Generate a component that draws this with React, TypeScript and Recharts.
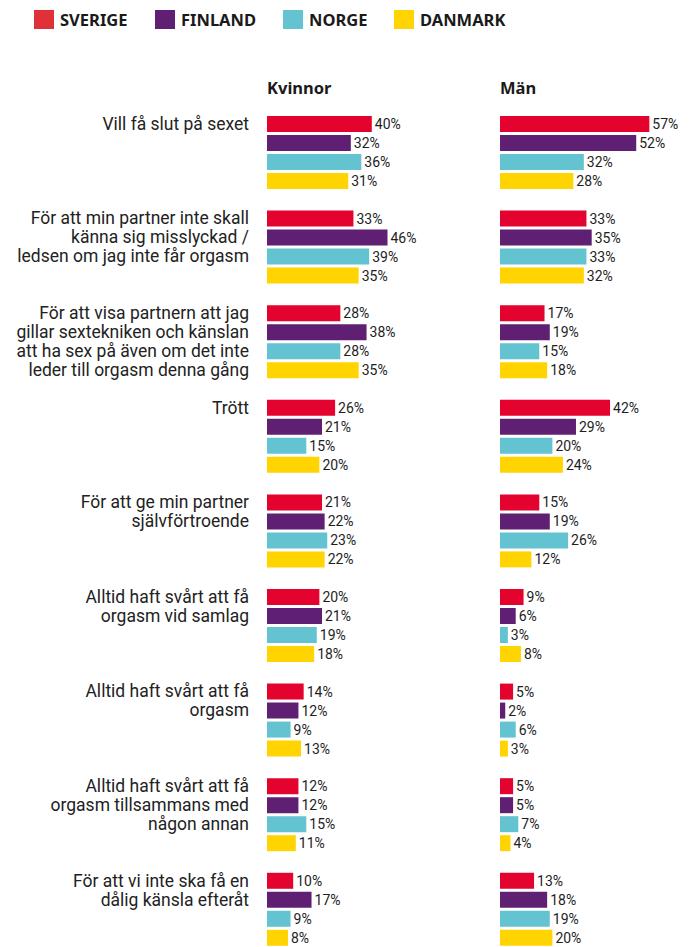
import { Bar, BarChart, LabelList, XAxis, YAxis } from "recharts"

const categories = [
  "Vill få slut på sexet",
  "För att min partner inte skall\nkänna sig misslyckad /\nledsen om jag inte får orgasm",
  "För att visa partnern att jag\ngillar sextekniken och känslan\natt ha sex på även om det inte\nleder till orgasm denna gång",
  "Trött",
  "För att ge min partner\nsjälvförtroende",
  "Alltid haft svårt att få\norgasm vid samlag",
  "Alltid haft svårt att få\norgasm",
  "Alltid haft svårt att få\norgasm tillsammans med\nnågon annan",
  "För att vi inte ska få en\ndålig känsla efteråt",
]

const countries = ["SVERIGE", "FINLAND", "NORGE", "DANMARK"]
const keys = ["sverige", "finland", "norge", "danmark"]
const colors = ["#e4032e", "#5f1f73", "#64c3d0", "#ffd400"]
const legendColors = ["#e03038", "#5f1f73", "#64c3d0", "#ffd400"]

// Kvinnor
const kvinnorSverige = [40, 33, 28, 26, 21, 20, 14, 12, 10]
const kvinnorFinland = [32, 46, 38, 21, 22, 21, 12, 12, 17]
const kvinnorNorge = [36, 39, 28, 15, 23, 19, 9, 15, 9]
const kvinnorDanmark = [31, 35, 35, 20, 22, 18, 13, 11, 8]

// Män
const manSverige = [57, 33, 17, 42, 15, 9, 5, 5, 13]
const manFinland = [52, 35, 19, 29, 19, 6, 2, 5, 18]
const manNorge = [32, 33, 15, 20, 26, 3, 6, 7, 19]
const manDanmark = [28, 32, 18, 24, 12, 8, 3, 4, 20]

const buildRows = (series: number[][]) =>
  categories.map((name, i) => ({
    name,
    sverige: series[0][i],
    finland: series[1][i],
    norge: series[2][i],
    danmark: series[3][i],
  }))

const kvinnorData = buildRows([kvinnorSverige, kvinnorFinland, kvinnorNorge, kvinnorDanmark])
const manData = buildRows([manSverige, manFinland, manNorge, manDanmark])

const FONT = "'Noto Sans', Roboto, sans-serif"
const LABEL_FONT = "Roboto, sans-serif"
const PX_PER_PCT = 2.62
const TOP = 105
const BAND = 94.6
const PLOT_H = BAND * categories.length
// legend item slot widths
const legendSlots = [121, 128, 111, 120]

function CategoryTick(props: any) {
  const { x, y, payload } = props
  const lines = String(payload.value).split("\n")
  return (
    <text x={x} y={y - 28.5} textAnchor="end" fontFamily={LABEL_FONT} fontSize={17.5} fill="#222">
      {lines.map((line, i) => (
        <tspan key={i} x={x} dy={i === 0 ? 6 : 19}>
          {line}
        </tspan>
      ))}
    </text>
  )
}

function Panel({
  data,
  max,
  left,
  axisWidth,
  showLabels,
}: {
  data: any[]
  max: number
  left: number
  axisWidth: number
  showLabels: boolean
}) {
  const plotW = max * PX_PER_PCT
  const width = axisWidth + plotW + 16
  return (
    <div style={{ position: "absolute", left, top: 0 }}>
      <BarChart
        width={width}
        height={TOP + PLOT_H}
        data={data}
        layout="vertical"
        margin={{ top: TOP, right: 16, bottom: 0, left: 0 }}
        barSize={16}
        barGap={3}
      >
        <XAxis type="number" domain={[0, max]} hide />
        <YAxis
          type="category"
          dataKey="name"
          width={axisWidth}
          hide={!showLabels}
          axisLine={false}
          tickLine={false}
          tickSize={0}
          tickMargin={18}
          interval={0}
          tick={<CategoryTick />}
        />
        {keys.map((k, i) => (
          <Bar key={k} dataKey={k} fill={colors[i]} isAnimationActive={false}>
            <LabelList
              dataKey={k}
              position="right"
              offset={3}
              formatter={(v: any) => `${v}%`}
              style={{ fontFamily: LABEL_FONT, fontSize: 14, fill: "#1e1e1e" }}
            />
          </Bar>
        ))}
      </BarChart>
    </div>
  )
}

export default function App() {
  return (
    <div
      style={{
        position: "absolute",
        left: 0,
        top: 0,
        width: 699,
        height: 947,
        overflow: "hidden",
        background: "#fff",
        fontFamily: FONT,
        color: "#1a1a1a",
      }}
    >
      <div style={{ position: "absolute", left: 34, top: 10, display: "flex", alignItems: "center" }}>
        {countries.map((c, i) => (
          <div key={c} style={{ display: "flex", alignItems: "center", width: legendSlots[i] }}>
            <div style={{ width: 20, height: 19, background: legendColors[i], marginRight: 6, flexShrink: 0 }} />
            <span style={{ fontWeight: 700, fontSize: 16.5, lineHeight: "19px", whiteSpace: "nowrap" }}>{c}</span>
          </div>
        ))}
      </div>
      <div style={{ position: "absolute", left: 267, top: 76, fontWeight: 700, fontSize: 16.5 }}>Kvinnor</div>
      <div style={{ position: "absolute", left: 500, top: 76, fontWeight: 700, fontSize: 16.5 }}>Män</div>
      <Panel data={kvinnorData} max={60} left={0} axisWidth={267} showLabels={true} />
      <Panel data={manData} max={70} left={500} axisWidth={0} showLabels={false} />
    </div>
  )
}
